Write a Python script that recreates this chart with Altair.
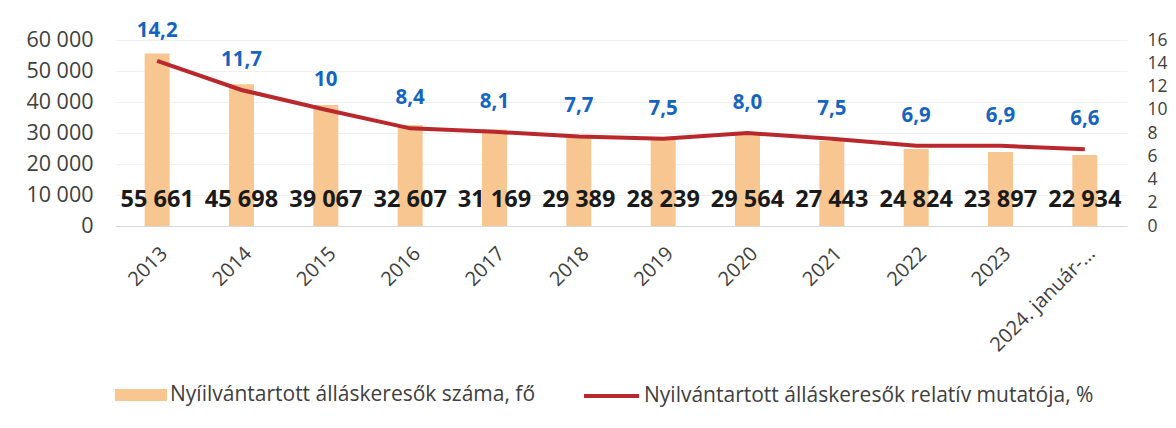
import altair as alt
import pandas as pd

years = ["2013", "2014", "2015", "2016", "2017", "2018", "2019", "2020",
         "2021", "2022", "2023", "2024. január-..."]
counts = [55661, 45698, 39067, 32607, 31169, 29389, 28239, 29564,
          27443, 24824, 23897, 22934]
rates = [14.2, 11.7, 10.0, 8.4, 8.1, 7.7, 7.5, 8.0, 7.5, 6.9, 6.9, 6.6]
rate_labels = ["14,2", "11,7", "10", "8,4", "8,1", "7,7", "7,5", "8,0",
               "7,5", "6,9", "6,9", "6,6"]
left_ticks = [0, 10000, 20000, 30000, 40000, 50000, 60000]
right_ticks = [0, 2, 4, 6, 8, 10, 12, 14, 16]

bar_name = "Nyíilvántartott álláskeresők száma, fő"
line_name = "Nyilvántartott álláskeresők relatív mutatója, %"

df = pd.DataFrame({
    "year": years,
    "count": counts,
    "count_label": [f"{c:,}".replace(",", " ") for c in counts],
    "rate": rates,
    "rate_label": rate_labels,
    "s_bar": bar_name,
    "s_line": line_name,
})

FONT = "Open Sans"
TXT = "#404040"

x_enc = alt.X("year:N", sort=years, title=None,
              axis=alt.Axis(labelAngle=-45, labelFontSize=20, labelColor=TXT,
                            labelFont=FONT, ticks=False, domainColor="#D9D9D9",
                            labelPadding=17, labelLimit=200, labelOverlap=False),
              scale=alt.Scale(paddingInner=0.7, paddingOuter=0.35))

right_axis = alt.Axis(values=right_ticks, orient="right",
                      labelFontSize=17.5, labelColor=TXT, labelFont=FONT,
                      ticks=False, domain=False, grid=False,
                      labelPadding=20, labelOverlap=False)
right_scale = alt.Scale(domain=[0, 16], nice=False)

base = alt.Chart(df)

bars = base.mark_bar(size=25).encode(
    x=x_enc,
    y=alt.Y("count:Q", title=None,
            scale=alt.Scale(domain=[0, 60000], nice=False),
            axis=alt.Axis(values=left_ticks, orient="left",
                          labelExpr="replace(format(datum.value, ','), ',', ' ')",
                          labelFontSize=21.5, labelColor=TXT, labelFont=FONT,
                          ticks=False, domain=False, gridColor="#F0F0F0",
                          labelPadding=22, labelOverlap=False)),
    fill=alt.Fill("s_bar:N", title=None,
                  scale=alt.Scale(domain=[bar_name], range=["#F8C690"]),
                  legend=alt.Legend(orient="none", legendX=0, legendY=329,
                                    symbolType="M-1,-0.23L1,-0.23L1,0.23L-1,0.23Z",
                                    symbolSize=2704, symbolStrokeWidth=0,
                                    labelFontSize=21, labelFont=FONT,
                                    labelColor=TXT, labelOffset=3,
                                    labelLimit=600)),
)

bar_text = base.mark_text(fontSize=23.5, fontWeight="bold", font=FONT,
                          color="#1a1a1a", baseline="middle").encode(
    x=alt.X("year:N", sort=years),
    y=alt.value(160),
    text="count_label:N",
)

line = base.mark_line(strokeWidth=4).encode(
    x=alt.X("year:N", sort=years),
    y=alt.Y("rate:Q", title=None, scale=right_scale, axis=right_axis),
    stroke=alt.Stroke("s_line:N", title=None,
                      scale=alt.Scale(domain=[line_name], range=["#B8282C"]),
                      legend=alt.Legend(orient="none", legendX=467, legendY=326.5,
                                        symbolType="stroke", symbolSize=3025,
                                        symbolStrokeWidth=4,
                                        labelFontSize=21, labelFont=FONT,
                                        labelColor=TXT, labelOffset=3,
                                        labelLimit=600)),
)

line_text = base.mark_text(fontSize=20.5, fontWeight="bold", font=FONT,
                           color="#1565C0", dy=-30).encode(
    x=alt.X("year:N", sort=years),
    y=alt.Y("rate:Q", title=None, scale=right_scale, axis=right_axis),
    text="rate_label:N",
)

chart = alt.layer(
    alt.layer(bars, bar_text),
    alt.layer(line, line_text),
).resolve_scale(y="independent", fill="independent", stroke="independent").properties(
    width=1012, height=186,
    autosize=alt.AutoSizeParams(type="none"),
    padding={"left": 115, "top": 40, "right": 49, "bottom": 202},
    background="white",
).configure_view(stroke=None)

chart.save("out.html", embed_options={"renderer": "svg", "actions": False})
